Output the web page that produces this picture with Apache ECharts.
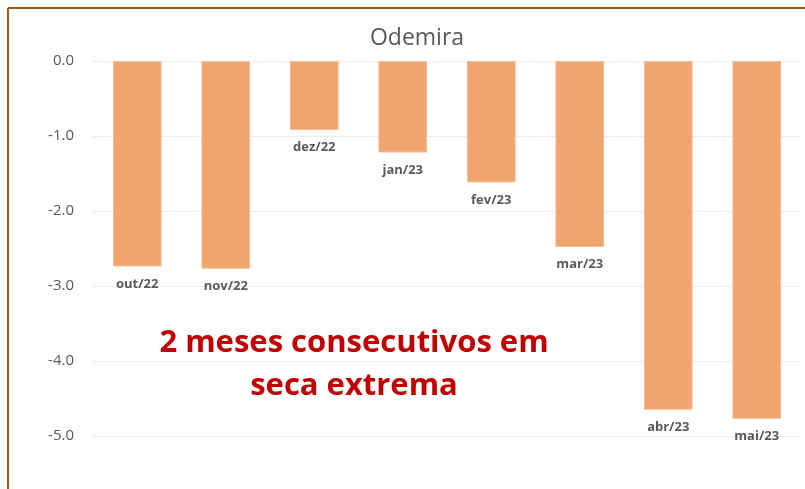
<!DOCTYPE html>
<html>
<head>
<meta charset="utf-8">
<script src="https://cdn.jsdelivr.net/npm/echarts@6/dist/echarts.min.js"></script>
<style>
  html, body { margin: 0; padding: 0; background: #fff; }
  #chart { width: 805px; height: 489px; }
</style>
</head>
<body>
<div id="chart"></div>
<script>
// dados
const categories = ["out/22", "nov/22", "dez/22", "jan/23", "fev/23", "mar/23", "abr/23", "mai/23"];
const values = [-2.74, -2.77, -0.92, -1.22, -1.62, -2.48, -4.65, -4.77];
const yTicks = [0, -1, -2, -3, -4, -5];

const chart = echarts.init(document.getElementById("chart"));
const font = "'Open Sans', 'Noto Sans', sans-serif";

chart.setOption({
  animation: false,
  title: {
    text: "Odemira",
    left: 412,
    textAlign: "center",
    top: 22,
    textStyle: { color: "#595959", fontSize: 23, fontWeight: "normal", fontFamily: font }
  },
  grid: { left: 93, right: 4, top: 61, height: 450, containLabel: false, outerBoundsMode: "none" },
  xAxis: {
    type: "category",
    data: categories,
    position: "top",
    axisLine: { show: false },
    axisTick: { show: false },
    axisLabel: { show: false }
  },
  yAxis: {
    type: "value",
    min: -6,
    max: 0,
    interval: 1,
    axisLine: { show: false },
    axisTick: { show: false },
    splitLine: { lineStyle: { color: "#ececec", width: 1 } },
    axisLabel: {
      margin: 19,
      color: "#595959",
      fontSize: 15,
      fontFamily: font,
      formatter: v => (yTicks.indexOf(v) >= 0 ? v.toFixed(1) : "")
    }
  },
  series: [{
    type: "bar",
    data: values,
    barWidth: "55%",
    itemStyle: { color: "#F0A56E", borderColor: "#F5BE96", borderWidth: 1 },
    label: {
      show: true,
      position: "bottom",
      distance: 11,
      formatter: p => p.name,
      color: "#595959",
      fontSize: 13,
      fontWeight: "bold",
      fontFamily: font
    }
  }],
  graphic: [
    { type: "line", shape: { x1: 8, y1: 8, x2: 805, y2: 8 }, style: { stroke: "#A9561F", lineWidth: 2 } },
    { type: "line", shape: { x1: 8, y1: 8, x2: 8, y2: 489 }, style: { stroke: "#A9561F", lineWidth: 2 } },
    {
      type: "text",
      x: 354,
      y: 322,
      style: {
        text: "2 meses consecutivos em\nseca extrema",
        align: "center",
        verticalAlign: "top",
        fill: "#C00000",
        fontSize: 31,
        fontWeight: "bold",
        fontFamily: font,
        lineHeight: 43
      }
    }
  ]
});
</script>
</body>
</html>
